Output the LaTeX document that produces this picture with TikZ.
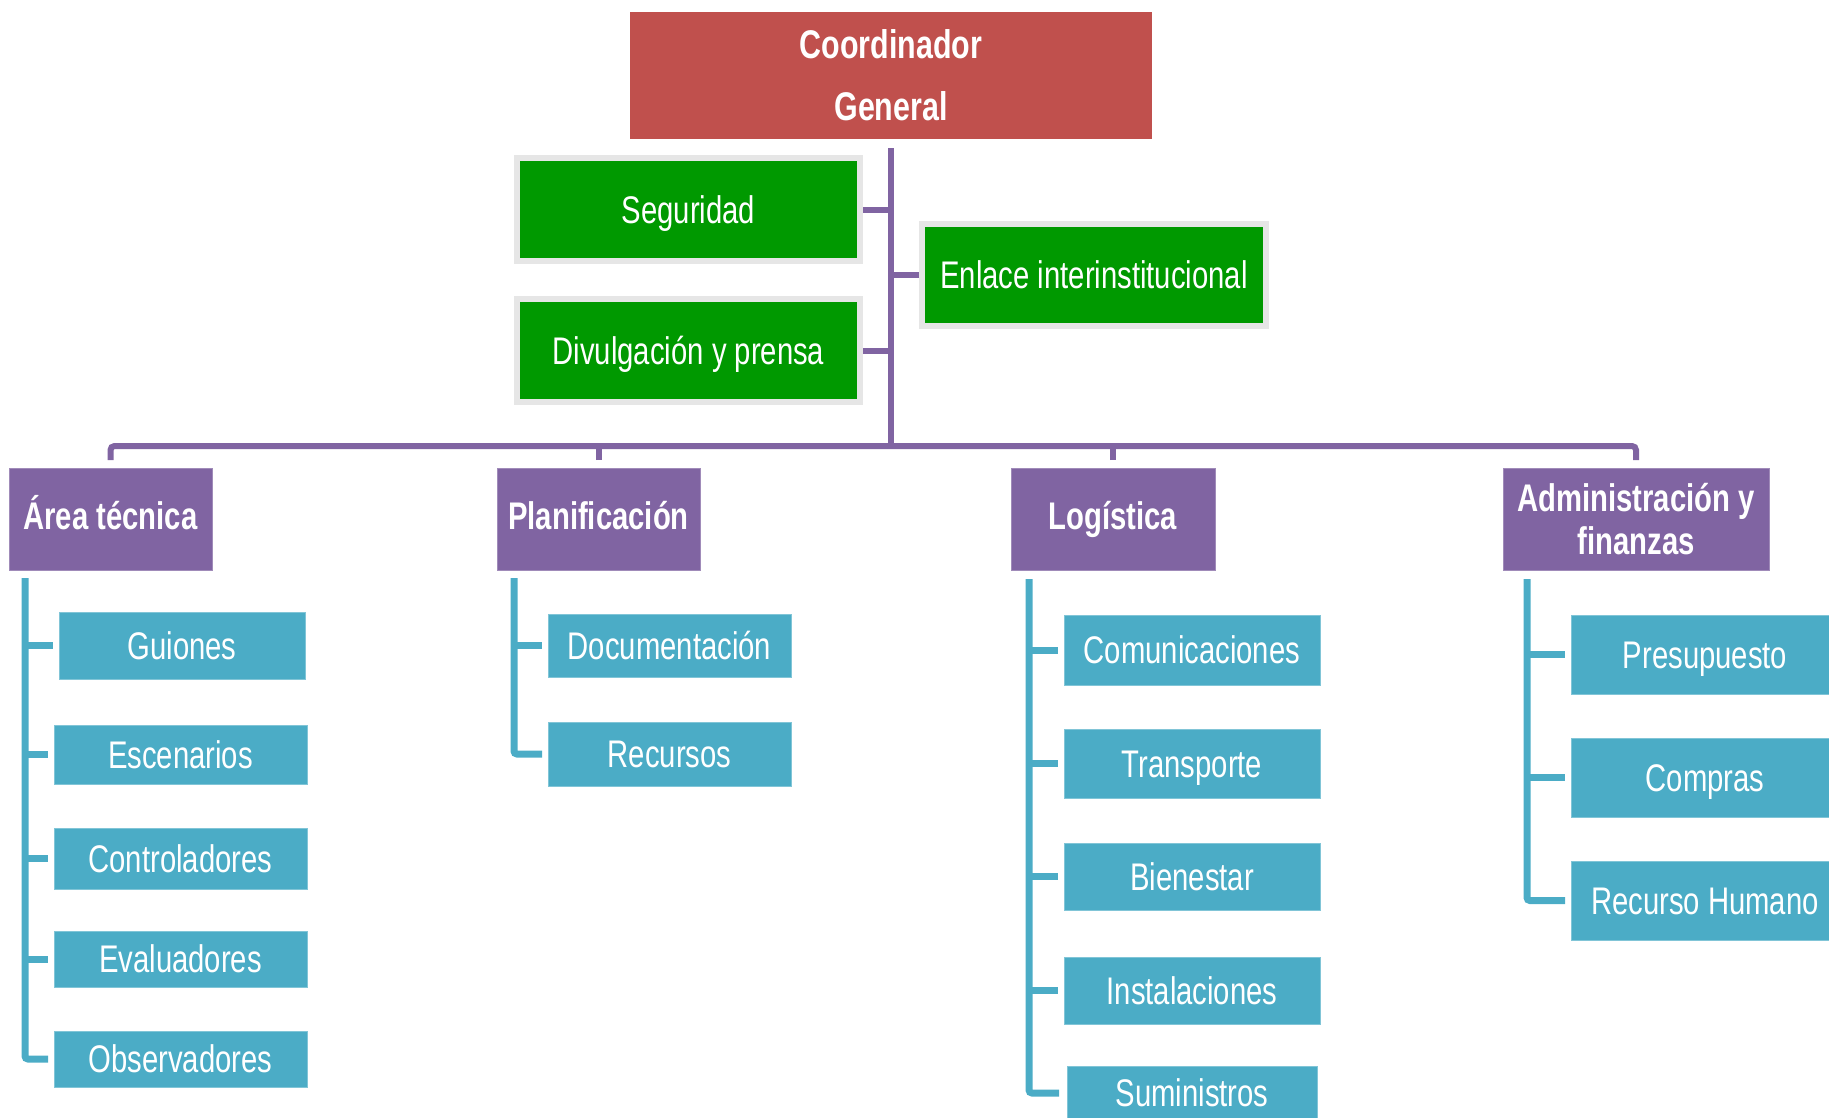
\documentclass[tikz,border=0pt]{standalone}
\usepackage{fontspec}
\setmainfont{Liberation Sans}[FakeStretch=0.76]
\definecolor{redc}{HTML}{C0504D}
\definecolor{greenc}{HTML}{009900}
\definecolor{purplec}{HTML}{8064A2}
\definecolor{bluec}{HTML}{4BACC6}
\definecolor{grayb}{HTML}{E6E6E6}
\begin{document}
\begin{tikzpicture}[x=1pt,y=-1pt,
  box/.style={inner sep=0pt, outer sep=0pt, text=white, align=center,
    font=\fontsize{38.5}{43}\selectfont},
  oneline/.style={text height=33pt, text depth=6pt},
  headline/.style={text height=29pt, text depth=8pt},
  redbox/.style={box, fill=redc, font=\bfseries\fontsize{40}{62}\selectfont},
  greenbox/.style={box, oneline, fill=greenc, draw=grayb, line width=6pt,
    minimum width=#1+6pt, minimum height=103pt},
  purplebox/.style={box, fill=purplec, draw=purplec!75!white, line width=1pt,
    font=\bfseries\fontsize{38.5}{43}\selectfont,
    minimum width=#1, minimum height=102pt},
  bluebox/.style={box, oneline, fill=bluec, draw=bluec!70!white, line width=1pt},
  pline/.style={draw=purplec, line width=6pt},
  bline/.style={draw=bluec, line width=7pt},
]
\useasboundingbox (0,0) rectangle (1829,1117);
\clip (0,0) rectangle (1829,1117);

% top
\node[redbox, minimum width=522pt, minimum height=127pt] (cg) at (891,75.5) {Coordinador\\General};
\node[greenbox=337pt] (seg) at (688.5,209.5) {Seguridad};
\node[greenbox=337pt] (div) at (688.5,350.5) {Divulgación y prensa};
\node[greenbox=338pt, minimum height=102pt] (enl) at (1094,275) {Enlace interinstitucional};

% second level
\node[purplebox=203pt, headline] (at) at (110.5,519) {Área técnica};
\node[purplebox=203pt, headline] (pl) at (598.5,519) {Planificación};
\node[purplebox=204pt, headline] (lo) at (1113,519) {Logística};
\node[purplebox=266pt] (ad) at (1636,519) {Administración y\\finanzas};

% Area tecnica
\node[bluebox, minimum width=246pt, minimum height=67pt] (gui) at (182,645.5) {Guiones};
\node[bluebox, minimum width=253pt, minimum height=59pt] (esc) at (180.5,754.5) {Escenarios};
\node[bluebox, minimum width=253pt, minimum height=61pt] (con) at (180.5,858.5) {Controladores};
\node[bluebox, minimum width=253pt, minimum height=56pt] (eva) at (180.5,959) {Evaluadores};
\node[bluebox, minimum width=253pt, minimum height=56pt] (obs) at (180.5,1059) {Observadores};

% Planificacion
\node[bluebox, minimum width=243pt, minimum height=63pt] (doc) at (669.5,645.5) {Documentación};
\node[bluebox, minimum width=243pt, minimum height=64pt] (rec) at (669.5,754) {Recursos};

% Logistica
\node[bluebox, minimum width=256pt, minimum height=70pt] (com) at (1192,650) {Comunicaciones};
\node[bluebox, minimum width=256pt, minimum height=69pt] (tra) at (1192,763.5) {Transporte};
\node[bluebox, minimum width=256pt, minimum height=67pt] (bie) at (1192,876.5) {Bienestar};
\node[bluebox, minimum width=256pt, minimum height=67pt] (ins) at (1192,990.5) {Instalaciones};
\node[bluebox, minimum width=250pt, minimum height=54pt] (sum) at (1192,1093) {Suministros};

% Administracion
\node[bluebox, minimum width=268pt, minimum height=79pt] (pre) at (1705,654.5) {Presupuesto};
\node[bluebox, minimum width=268pt, minimum height=79pt] (cmp) at (1705,777.5) {Compras};
\node[bluebox, minimum width=268pt, minimum height=79pt] (rh) at (1705,900.5) {Recurso Humano};

% purple connectors
\coordinate (bus) at (891,446);
\draw[pline] ([yshift=-9pt]cg.south) -- (bus);
\draw[pline] ([xshift=3pt]seg.east) -- (seg.east -| bus);
\draw[pline] ([xshift=3pt]div.east) -- (div.east -| bus);
\draw[pline] ([xshift=-3pt]enl.west) -- (enl.west -| bus);
\draw[pline, rounded corners=4pt] ([yshift=8pt]at.north) |- (bus) -| ([yshift=8pt]ad.north);
\draw[pline] ([yshift=8pt]pl.north) -- (pl.north |- bus);
\draw[pline] ([yshift=8pt]lo.north) -- (lo.north |- bus);

% blue connectors
\coordinate (atv) at (25,578);
\draw[bline, rounded corners=3pt] (atv) |- ([xshift=-6pt]obs.west);
\foreach \n in {gui,esc,con,eva}
  \draw[bline] (atv |- \n.west) -- ([xshift=-6pt]\n.west);

\coordinate (plv) at (514,578);
\draw[bline, rounded corners=3pt] (plv) |- ([xshift=-6pt]rec.west);
\draw[bline] (plv |- doc.west) -- ([xshift=-6pt]doc.west);

\coordinate (lov) at (1029,579);
\draw[bline, rounded corners=3pt] (lov) |- ([xshift=-8pt]sum.west);
\foreach \n in {com,tra,bie,ins}
  \draw[bline] (lov |- \n.west) -- ([xshift=-6pt]\n.west);

\coordinate (adv) at (1527,579);
\draw[bline, rounded corners=3pt] (adv) |- ([xshift=-6pt]rh.west);
\foreach \n in {pre,cmp}
  \draw[bline] (adv |- \n.west) -- ([xshift=-6pt]\n.west);
\end{tikzpicture}
\end{document}
